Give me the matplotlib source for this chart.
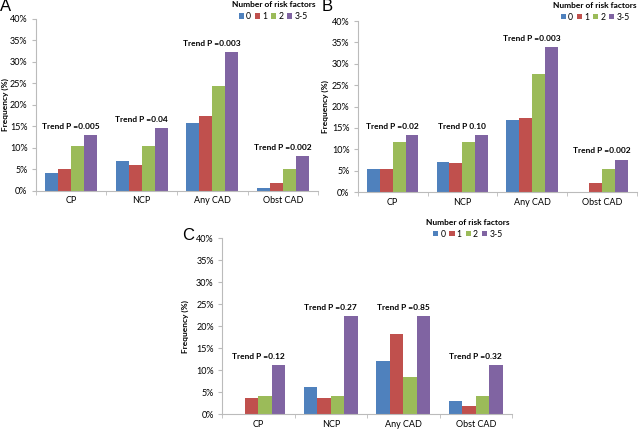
import numpy as np
import matplotlib
matplotlib.use('Agg')
import matplotlib.pyplot as plt
from matplotlib.ticker import FuncFormatter

plt.rcParams['font.family'] = ['Lato', 'DejaVu Sans']

categories = ['CP', 'NCP', 'Any CAD', 'Obst CAD']
risk_groups = ['0', '1', '2', '3-5']
colors = ['#4F81BD', '#C0504D', '#9BBB59', '#8064A2']

# rows = category, columns = risk factor group (values in %)
panel_a = [[4.1, 5.0, 10.3, 12.9],
           [6.8, 5.9, 10.3, 14.5],
           [15.7, 17.4, 24.3, 32.3],
           [0.6, 1.9, 5.1, 8.0]]
trend_a = ['Trend P =0.005', 'Trend P =0.04', 'Trend P =0.003', 'Trend P =0.002']

panel_b = [[5.3, 5.5, 11.6, 13.3],
           [7.1, 6.9, 11.6, 13.3],
           [16.8, 17.2, 27.7, 34.0],
           [0.0, 2.1, 5.5, 7.6]]
trend_b = ['Trend P =0.02', 'Trend P 0.10', 'Trend P =0.003', 'Trend P =0.002']

panel_c = [[0.0, 3.7, 4.2, 11.1],
           [6.1, 3.7, 4.2, 22.3],
           [12.2, 18.3, 8.4, 22.3],
           [3.0, 1.8, 4.2, 11.1]]
trend_c = ['Trend P =0.12', 'Trend P =0.27', 'Trend P =0.85', 'Trend P =0.32']


def draw_panel(fig, rect, vals, trends, letter, letter_xy, ylab_x, leg_xy):
	ax = fig.add_axes(rect)
	vals = np.array(vals)
	x = np.arange(len(categories))
	w = 0.185
	for j in range(len(risk_groups)):
		ax.bar(x + (j - 1.5) * w, vals[:, j], w, color=colors[j], label=risk_groups[j])
	for i in range(len(categories)):
		ax.text(x[i], vals[i].max() + 2.0, trends[i], ha='center', va='center',
				fontsize=6, fontweight='bold')
	ax.set_xlim(-0.5, len(categories) - 0.5)
	ax.set_ylim(0, 40)
	ax.set_yticks(np.arange(0, 41, 5))
	ax.yaxis.set_major_formatter(FuncFormatter(lambda v, p: '%d%%' % v))
	ax.set_xticks(x)
	ax.set_xticklabels(categories)
	ax.set_xticks(np.arange(-0.5, len(categories), 1), minor=True)
	ax.tick_params(axis='x', which='major', length=0, labelsize=6.5, pad=4)
	ax.tick_params(axis='x', which='minor', length=3, color='#BBBBBB', direction='out')
	ax.tick_params(axis='y', length=3, color='#BBBBBB', labelsize=6.5, pad=3)
	for s in ['top', 'right']:
		ax.spines[s].set_visible(False)
	for s in ['left', 'bottom']:
		ax.spines[s].set_color('#BBBBBB')
		ax.spines[s].set_linewidth(0.8)
	fig.text(ylab_x, rect[1] + rect[3] / 2, 'Frequency (%)', rotation=90, ha='center',
			 va='center', fontsize=6, fontweight='bold')
	fig.text(letter_xy[0], letter_xy[1], letter, fontsize=12, ha='left', va='center',
			 family='Liberation Sans')
	fig.text(leg_xy[0], leg_xy[1], 'Number of risk factors', fontsize=6, fontweight='bold',
			 ha='center', va='center')
	fig.legend(*ax.get_legend_handles_labels(), loc='center', ncol=4,
			   bbox_to_anchor=(leg_xy[0], leg_xy[1] - 0.028), frameon=False,
			   fontsize=6.2, handlelength=0.6, handleheight=0.6, handletextpad=0.25,
			   columnspacing=0.45, borderaxespad=0, borderpad=0)
	return ax


fig = plt.figure(figsize=(6.4, 4.29), dpi=100)
draw_panel(fig, [0.056, 0.5555, 0.441, 0.4003], panel_a, trend_a, 'A',
		   (0.0, 0.985), 0.008, (0.427, 0.99))
draw_panel(fig, [0.559, 0.5524, 0.436, 0.3986], panel_b, trend_b, 'B',
		   (0.502, 0.985), 0.508, (0.93, 0.988))
draw_panel(fig, [0.347, 0.0343, 0.453, 0.4102], panel_c, trend_c, 'C',
		   (0.285, 0.45), 0.289, (0.731, 0.482))

fig.savefig('out.png', dpi=100, facecolor='white')
